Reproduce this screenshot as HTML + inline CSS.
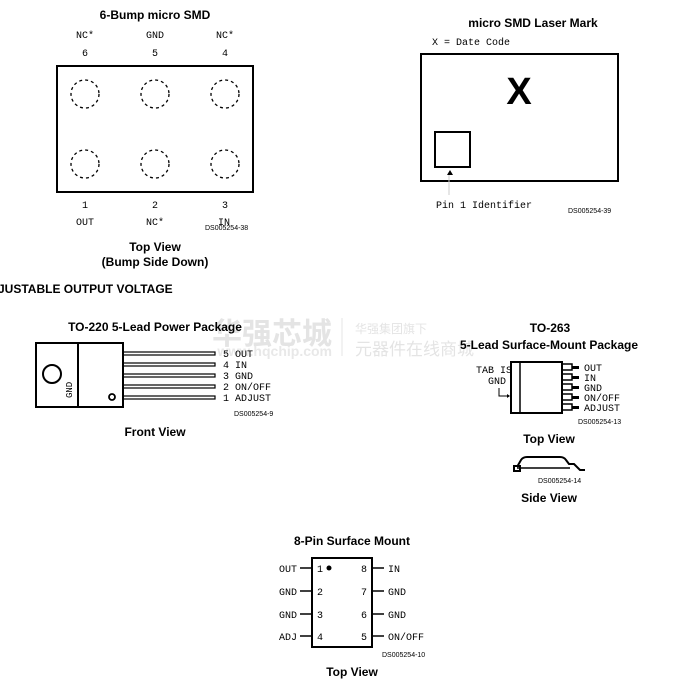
<!DOCTYPE html>
<html><head><meta charset="utf-8"><style>
html,body{margin:0;padding:0;background:#fff;}
svg{display:block;}
.b{font-family:"Liberation Sans",Arial,sans-serif;font-weight:bold;fill:#000;}
.m{font-family:"Liberation Mono","DejaVu Sans Mono",monospace;fill:#000;}
.s{font-family:"Liberation Sans",Arial,sans-serif;fill:#000;font-size:7px;}
</style></head><body>
<svg width="675" height="680" viewBox="0 0 675 680" xmlns="http://www.w3.org/2000/svg">
<!-- watermark -->
<text x="212" y="344" font-family="Noto Sans CJK SC,sans-serif" font-weight="bold" font-size="30" fill="#e4e4e4">华强芯城</text>
<text x="332" y="356" text-anchor="end" font-family="Liberation Sans,sans-serif" font-weight="bold" font-size="14" fill="#e8e8e8">www.hqchip.com</text>
<line x1="342" y1="318" x2="342" y2="356" stroke="#e4e4e4"/>
<text x="355" y="333" font-family="Noto Sans CJK SC,sans-serif" font-size="12" fill="#e4e4e4">华强集团旗下</text>
<text x="355" y="355" font-family="Noto Sans CJK SC,sans-serif" font-size="17" fill="#e4e4e4">元器件在线商城</text>

<!-- 6-bump -->
<text class="b" x="155" y="19" font-size="12" text-anchor="middle">6-Bump micro SMD</text>
<g class="m" font-size="10" text-anchor="middle">
<text x="85" y="38">NC*</text><text x="155" y="38">GND</text><text x="225" y="38">NC*</text>
<text x="85" y="56">6</text><text x="155" y="56">5</text><text x="225" y="56">4</text>
<text x="85" y="208">1</text><text x="155" y="208">2</text><text x="225" y="208">3</text>
<text x="85" y="225">OUT</text><text x="155" y="225">NC*</text><text x="224" y="225">IN</text>
</g>
<rect x="57" y="66" width="196" height="126" fill="none" stroke="#000" stroke-width="2"/>
<g fill="none" stroke="#000" stroke-width="1.3" stroke-dasharray="3,3">
<circle cx="85" cy="94" r="14"/><circle cx="155" cy="94" r="14"/><circle cx="225" cy="94" r="14"/>
<circle cx="85" cy="164" r="14"/><circle cx="155" cy="164" r="14"/><circle cx="225" cy="164" r="14"/>
</g>
<text class="s" x="205" y="230">DS005254-38</text>
<text class="b" x="155" y="251" font-size="12" text-anchor="middle">Top View</text>
<text class="b" x="155" y="266" font-size="12" text-anchor="middle">(Bump Side Down)</text>

<!-- laser mark -->
<text class="b" x="533" y="27" font-size="12" text-anchor="middle">micro SMD Laser Mark</text>
<text class="m" x="432" y="45" font-size="10">X = Date Code</text>
<rect x="421" y="54" width="197" height="127" fill="none" stroke="#000" stroke-width="2"/>
<text class="b" x="519" y="104" font-size="38" text-anchor="middle">X</text>
<rect x="435" y="132" width="35" height="35" fill="none" stroke="#000" stroke-width="2"/>
<polygon points="447,175 450,170 453,175" fill="#000"/>
<line x1="449" y1="175" x2="449" y2="195" stroke="#ccc"/>
<text class="m" x="436" y="208" font-size="10">Pin 1 Identifier</text>
<text class="s" x="568" y="213">DS005254-39</text>

<text class="b" x="-2" y="293" font-size="12">JUSTABLE OUTPUT VOLTAGE</text>

<!-- TO-220 -->
<text class="b" x="155" y="331" font-size="12" text-anchor="middle">TO-220 5-Lead Power Package</text>
<rect x="36" y="343" width="87" height="64" fill="none" stroke="#000" stroke-width="2"/>
<line x1="78" y1="343" x2="78" y2="407" stroke="#000" stroke-width="2"/>
<circle cx="52" cy="374" r="9" fill="none" stroke="#000" stroke-width="2"/>
<circle cx="112" cy="397" r="3" fill="none" stroke="#000" stroke-width="1.8"/>
<text class="m" font-size="9" transform="translate(72,398) rotate(-90)">GND</text>
<g fill="none" stroke="#000" stroke-width="1.2">
<rect x="123" y="352" width="92" height="3"/><rect x="123" y="363" width="92" height="3"/>
<rect x="123" y="374" width="92" height="3"/><rect x="123" y="385" width="92" height="3"/>
<rect x="123" y="396" width="92" height="3"/>
</g>
<g class="m" font-size="10">
<text x="223" y="357">5 OUT</text><text x="223" y="368">4 IN</text><text x="223" y="379">3 GND</text>
<text x="223" y="390">2 ON/OFF</text><text x="223" y="401">1 ADJUST</text>
</g>
<text class="s" x="234" y="416">DS005254-9</text>
<text class="b" x="155" y="436" font-size="12" text-anchor="middle">Front View</text>

<!-- TO-263 -->
<text class="b" x="550" y="332" font-size="12" text-anchor="middle">TO-263</text>
<text class="b" x="549" y="349" font-size="12" text-anchor="middle">5-Lead Surface-Mount Package</text>
<rect x="511" y="362" width="51" height="51" fill="none" stroke="#000" stroke-width="2"/>
<line x1="520" y1="362" x2="520" y2="413" stroke="#000" stroke-width="1.5"/>
<g fill="none" stroke="#000" stroke-width="1.5">
<rect x="562" y="364" width="10" height="6"/><rect x="562" y="374" width="10" height="6"/>
<rect x="562" y="384" width="10" height="6"/><rect x="562" y="394" width="10" height="6"/>
<rect x="562" y="404" width="10" height="6"/>
</g>
<g fill="#000"><rect x="572" y="366" width="7" height="3"/><rect x="572" y="376" width="7" height="3"/>
<rect x="572" y="386" width="7" height="3"/><rect x="572" y="396" width="7" height="3"/><rect x="572" y="406" width="7" height="3"/></g>
<g class="m" font-size="10">
<text x="584" y="371">OUT</text><text x="584" y="381">IN</text><text x="584" y="391">GND</text>
<text x="584" y="401">ON/OFF</text><text x="584" y="411">ADJUST</text>
<text x="476" y="373">TAB IS</text><text x="488" y="384">GND</text>
</g>
<path d="M499,388 V396 H507" fill="none" stroke="#000"/><polygon points="507,394 510,396 507,398" fill="#000"/>
<text class="s" x="578" y="424">DS005254-13</text>
<text class="b" x="549" y="443" font-size="12" text-anchor="middle">Top View</text>
<path d="M517,467 L521,460 Q523,457 527,457 H560 Q564,457 566,460 L569,464 H574 L580,470 H585" fill="none" stroke="#000" stroke-width="2"/>
<rect x="514" y="466" width="6" height="5" fill="none" stroke="#000" stroke-width="2"/>
<line x1="517" y1="468" x2="570" y2="468" stroke="#000" stroke-width="1.5"/>
<text class="s" x="538" y="483">DS005254-14</text>
<text class="b" x="549" y="502" font-size="12" text-anchor="middle">Side View</text>

<!-- 8-pin -->
<text class="b" x="352" y="545" font-size="12" text-anchor="middle">8-Pin Surface Mount</text>
<rect x="312" y="558" width="60" height="89" fill="none" stroke="#000" stroke-width="2"/>
<g stroke="#000" stroke-width="1.5">
<line x1="300" y1="568" x2="312" y2="568"/><line x1="300" y1="591" x2="312" y2="591"/>
<line x1="300" y1="614" x2="312" y2="614"/><line x1="300" y1="636" x2="312" y2="636"/>
<line x1="372" y1="568" x2="384" y2="568"/><line x1="372" y1="591" x2="384" y2="591"/>
<line x1="372" y1="614" x2="384" y2="614"/><line x1="372" y1="636" x2="384" y2="636"/>
</g>
<circle cx="329" cy="568" r="2.5" fill="#000"/>
<g class="m" font-size="10">
<text x="317" y="572">1</text><text x="317" y="595">2</text><text x="317" y="618">3</text><text x="317" y="640">4</text>
<text x="361" y="572">8</text><text x="361" y="595">7</text><text x="361" y="618">6</text><text x="361" y="640">5</text>
<text x="297" y="572" text-anchor="end">OUT</text><text x="297" y="595" text-anchor="end">GND</text>
<text x="297" y="618" text-anchor="end">GND</text><text x="297" y="640" text-anchor="end">ADJ</text>
<text x="388" y="572">IN</text><text x="388" y="595">GND</text><text x="388" y="618">GND</text><text x="388" y="640">ON/OFF</text>
</g>
<text class="s" x="382" y="657">DS005254-10</text>
<text class="b" x="352" y="676" font-size="12" text-anchor="middle">Top View</text>
</svg>
</body></html>
